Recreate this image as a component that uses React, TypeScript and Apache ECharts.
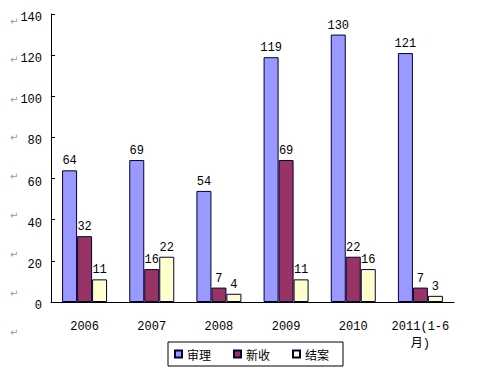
import React, { useEffect, useRef } from "react";
import * as echarts from "echarts";

const categories = ["2006", "2007", "2008", "2009", "2010", "2011(1-6\n月)"];
const shenli = [64, 69, 54, 119, 130, 121];
const xinshou = [32, 16, 7, 69, 22, 7];
const jiean = [11, 22, 4, 11, 16, 3];
const seriesNames = ["审理", "新收", "结案"];
const seriesColors = ["#9999FF", "#993366", "#FFFFCC"];
const returnMarkRows = [22, 60, 100, 138, 177, 216, 255, 294, 333];

export default function App() {
  const ref = useRef<HTMLDivElement>(null);
  useEffect(() => {
    document.body.style.margin = "0";
    if (!ref.current) return;
    const chart = echarts.init(ref.current, undefined, { renderer: "svg" });
    const numFont = "'Liberation Mono', 'DejaVu Sans Mono', monospace";
    const mk = (name: string, data: number[], color: string) => ({
      name,
      type: "bar",
      data,
      barWidth: 15,
      barGap: "0%",
      itemStyle: { color, borderColor: "#000033", borderWidth: 1 },
      label: {
        show: true,
        position: "top",
        distance: 3,
        color: "#000",
        fontSize: 12,
        fontFamily: numFont,
      },
    });
    chart.setOption({
      animation: false,
      backgroundColor: "#fff",
      grid: { left: 51, right: 25, top: 14, bottom: 76 },
      legend: {
        data: seriesNames,
        left: 168,
        top: 342,
        icon: "rect",
        itemWidth: 7,
        itemHeight: 7,
        itemGap: 22,
        borderColor: "#000",
        borderWidth: 1,
        padding: [6, 14, 6, 6],
        textStyle: {
          fontSize: 12,
          color: "#000",
          fontFamily: "'Noto Sans CJK SC', sans-serif",
        },
      },
      xAxis: {
        type: "category",
        data: categories,
        axisLine: { lineStyle: { color: "#000", width: 1 } },
        axisTick: { inside: true, length: 4, lineStyle: { color: "#000" } },
        axisLabel: {
          color: "#000",
          fontSize: 12,
          margin: 16,
          lineHeight: 17,
          fontFamily: "'Liberation Mono', 'Noto Sans CJK SC', monospace",
          interval: 0,
        },
        splitLine: { show: false },
      },
      yAxis: {
        type: "value",
        min: 0,
        max: 140,
        interval: 20,
        axisLine: { show: true, lineStyle: { color: "#000", width: 1 } },
        axisTick: { show: true, inside: true, length: 4, lineStyle: { color: "#000" } },
        axisLabel: {
          color: "#000",
          fontSize: 12,
          margin: 9,
          verticalAlign: "top",
          lineHeight: 8,
          fontFamily: numFont,
        },
        splitLine: { show: false },
      },
      graphic: returnMarkRows.map((y) => ({
        type: "text",
        left: 10,
        top: y - 6,
        silent: true,
        style: {
          text: "↵",
          fill: "#999",
          fontSize: 10,
          fontFamily: "'DejaVu Sans', sans-serif",
        },
      })),
      series: [
        mk(seriesNames[0], shenli, seriesColors[0]),
        mk(seriesNames[1], xinshou, seriesColors[1]),
        mk(seriesNames[2], jiean, seriesColors[2]),
      ],
    });
    return () => chart.dispose();
  }, []);
  return <div ref={ref} style={{ width: 479, height: 378 }} />;
}
